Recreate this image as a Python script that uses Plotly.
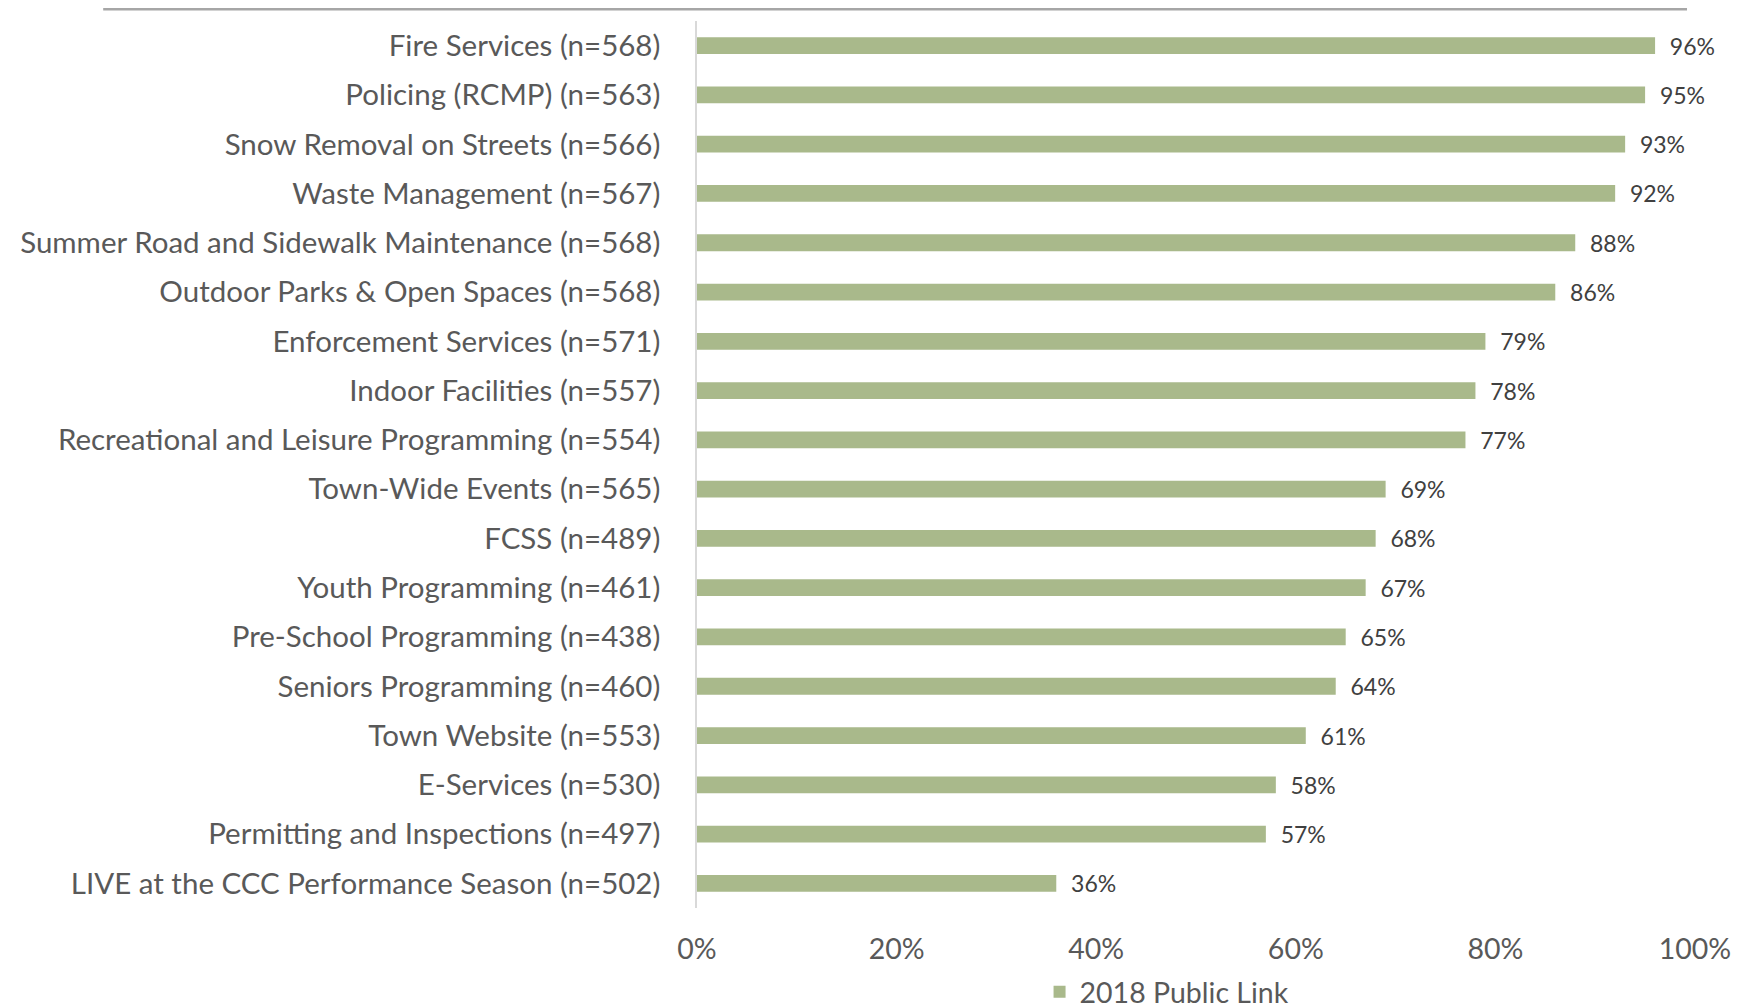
import plotly.graph_objects as go

categories = [
    "Fire Services (n=568)",
    "Policing (RCMP) (n=563)",
    "Snow Removal on Streets (n=566)",
    "Waste Management (n=567)",
    "Summer Road and Sidewalk Maintenance (n=568)",
    "Outdoor Parks & Open Spaces (n=568)",
    "Enforcement Services (n=571)",
    "Indoor Facilities (n=557)",
    "Recreational and Leisure Programming (n=554)",
    "Town-Wide Events (n=565)",
    "FCSS (n=489)",
    "Youth Programming (n=461)",
    "Pre-School Programming (n=438)",
    "Seniors Programming (n=460)",
    "Town Website (n=553)",
    "E-Services (n=530)",
    "Permitting and Inspections (n=497)",
    "LIVE at the CCC Performance Season (n=502)",
]
values = [96, 95, 93, 92, 88, 86, 79, 78, 77, 69, 68, 67, 65, 64, 61, 58, 57, 36]
series_name = "2018 Public Link"
x_ticks = [0, 20, 40, 60, 80, 100]
x_tick_labels = ["0%", "20%", "40%", "60%", "80%", "100%"]

FONT = "Lato"
BAR = "#A9B98B"

fig = go.Figure()
fig.add_trace(go.Bar(
    y=categories,
    x=values,
    orientation="h",
    name=series_name,
    marker=dict(color=BAR, line=dict(width=0)),
    text=["\u00a0\u00a0" + f"{v}%" for v in values],
    textposition="outside",
    constraintext="none",
    textfont=dict(family=FONT, size=23, color="#404040"),
    cliponaxis=False,
    showlegend=True,
))

fig.update_layout(
    width=1740,
    height=1006,
    margin=dict(l=689, r=53, t=13, b=106, autoexpand=False),
    paper_bgcolor="white",
    plot_bgcolor="white",
    bargap=0.66,
    font=dict(family=FONT, color="#595959"),
    xaxis=dict(
        range=[0, 100],
        tickvals=x_ticks,
        ticktext=x_tick_labels,
        showgrid=False,
        zeroline=False,
        showline=False,
        tickfont=dict(family=FONT, size=28.5, color="#595959"),
        ticklabelstandoff=21,
        automargin=False,
    ),
    yaxis=dict(
        autorange="reversed",
        showgrid=False,
        zeroline=False,
        showline=True,
        linecolor="#D9D9D9",
        linewidth=1.5,
        tickfont=dict(family=FONT, size=29.5, color="#595959"),
        ticklabelstandoff=29,
        ticks="",
        automargin=False,
    ),
    legend=dict(
        orientation="h",
        x=0.471,
        xanchor="center",
        y=-0.095,
        yanchor="middle",
        font=dict(family=FONT, size=28.5, color="#595959"),
        itemwidth=30,
    ),
    shapes=[dict(
        type="line", xref="paper", yref="paper",
        x0=-0.595, x1=0.992, y0=1.0135, y1=1.0135,
        line=dict(color="#A6A6A6", width=3),
    )],
)

fig.write_html("out.html")
